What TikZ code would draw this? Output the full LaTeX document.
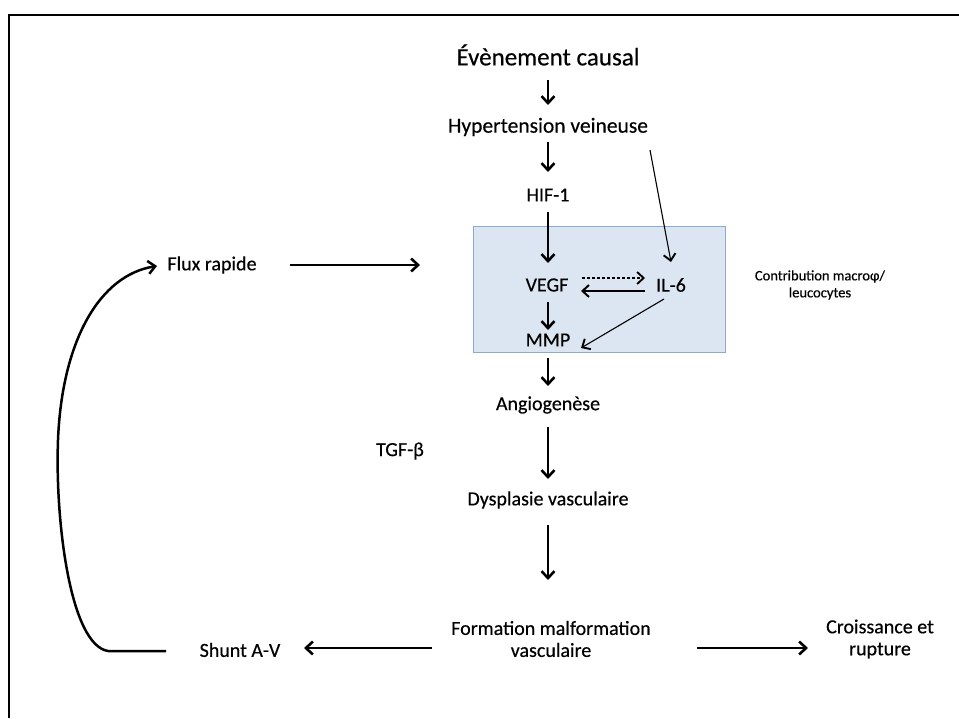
\documentclass[tikz,border=0pt]{standalone}
\usepackage{fontspec}
\setmainfont{Carlito}[FakeBold=0.4]
\usetikzlibrary{arrows.meta}
\definecolor{boxfill}{RGB}{220,230,242}
\definecolor{boxline}{RGB}{140,170,205}
\begin{document}
\begin{tikzpicture}[x=1pt,y=-1pt,
  lbl/.style={inner sep=1pt,font=\fontsize{20}{22}\selectfont,align=center},
  hy/.style={inner sep=1pt,font=\fontsize{21.5}{24}\selectfont},
  big/.style={inner sep=1pt,font=\fontsize{25}{28}\selectfont},
  small/.style={inner sep=1pt,font=\fontsize{14.5}{17}\selectfont,align=center},
  thick arrow/.style={line width=2.6pt,-{Straight Barb[length=7pt,width=13pt,line width=2.6pt]}},
  thin arrow/.style={line width=1.1pt,-{Straight Barb[length=6.5pt,width=12pt,line width=1.9pt]}},
  dash arrow/.style={line width=1.1pt,densely dashed,-{Straight Barb[length=6.5pt,width=12pt,line width=1.9pt]}}]
\useasboundingbox (0,0) rectangle (959,718);
\fill[white] (0,0) rectangle (959,718);
% frame
\draw[line width=2.5pt] (9,718) -- (9,15) -- (959,15);
% box
\node[draw=boxline,fill=boxfill,line width=1pt,minimum width=252pt,minimum height=126pt,inner sep=0pt] (box) at (599,289) {};
% nodes
\node[big] (ev) at (548,55) {Évènement causal};
\node[hy] (hyp) at (548,127) {Hypertension veineuse};
\node[lbl] (hif) at (548,195) {HIF-1};
\node[lbl] (vegf) at (547,285) {VEGF};
\node[lbl] (il6) at (671,285) {IL-6};
\node[lbl] (mmp) at (548,340) {MMP};
\node[small] (contrib) at (820,285) {Contribution macroφ/\\leucocytes};
\node[lbl] (flux) at (212,265) {Flux rapide};
\node[lbl] (angio) at (548,405) {Angiogenèse};
\node[lbl] (tgf) at (400,451) {TGF-β};
\node[lbl] (dys) at (548,500) {Dysplasie vasculaire};
\node[lbl] (form) at (551,639) {Formation malformation\\vasculaire};
\node[lbl] (shunt) at (240,650) {Shunt A-V};
\node[lbl] (crois) at (880,639) {Croissance et\\rupture};
% coordinates
\coordinate (a1s) at (548,80);  \coordinate (a1e) at (548,105);
\coordinate (a2s) at (548,142); \coordinate (a2e) at (548,172);
\coordinate (a3s) at (548,212); \coordinate (a3e) at (548,263);
\coordinate (a4s) at (548,302); \coordinate (a4e) at (548,330);
\coordinate (a5s) at (548,358); \coordinate (a5e) at (548,386);
\coordinate (a6s) at (548,427); \coordinate (a6e) at (548,479);
\coordinate (a7s) at (548,525); \coordinate (a7e) at (548,580);
\coordinate (hl) at (650,150); \coordinate (hle) at (671,262);
\coordinate (da1) at (582,278); \coordinate (da2) at (645,278);
\coordinate (sa1) at (645,291); \coordinate (sa2) at (581,291);
\coordinate (im1) at (664,299); \coordinate (im2) at (581,348);
\coordinate (fx1) at (290,265); \coordinate (fx2) at (420,265);
\coordinate (sh1) at (432,648); \coordinate (sh2) at (304,648);
\coordinate (cr1) at (697,648); \coordinate (cr2) at (808,648);
\coordinate (lp0) at (166,651); \coordinate (lp1) at (108,651); \coordinate (lp2) at (157,266);
% arrows
\draw[thick arrow] (a1s) -- (a1e);
\draw[thick arrow] (a2s) -- (a2e);
\draw[thick arrow] (a3s) -- (a3e);
\draw[thick arrow] (a4s) -- (a4e);
\draw[thick arrow] (a5s) -- (a5e);
\draw[thick arrow] (a6s) -- (a6e);
\draw[thick arrow] (a7s) -- (a7e);
\draw[thin arrow] (hl) -- (hle);
\draw[dash arrow] (da1) -- (da2);
\draw[line width=1.6pt,-{Straight Barb[length=6.5pt,width=12pt,line width=2pt]}] (sa1) -- (sa2);
\draw[thin arrow] (im1) -- (im2);
\draw[thick arrow] (fx1) -- (fx2);
\draw[thick arrow] (sh1) -- (sh2);
\draw[thick arrow] (cr1) -- (cr2);
\draw[line width=2.5pt,-{Straight Barb[length=7pt,width=13pt,line width=2.5pt]}] (lp0) -- (lp1) .. controls (70,645) and (55,520) .. (58,440) .. controls (62,340) and (100,275) .. (lp2);
\end{tikzpicture}
\end{document}
